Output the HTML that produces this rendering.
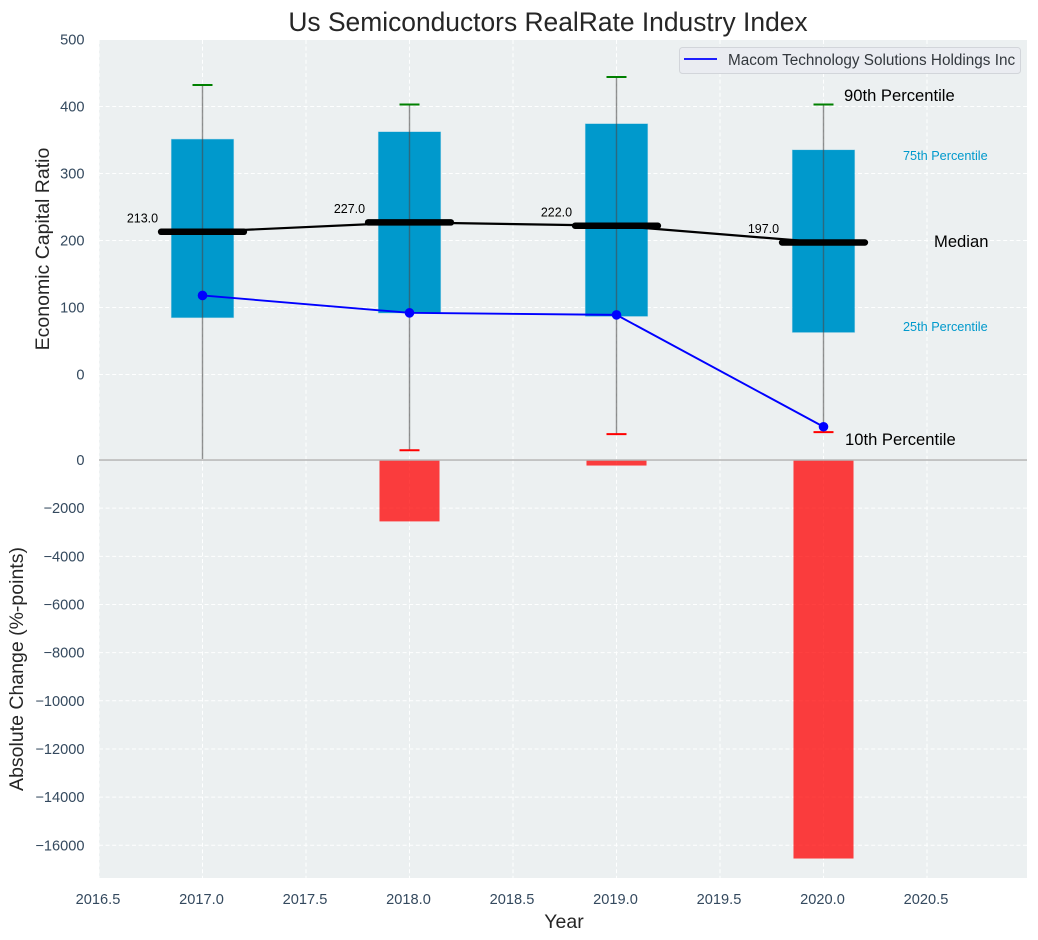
<!DOCTYPE html>
<html lang="en">
<head>
<meta charset="utf-8">
<title>Us Semiconductors RealRate Industry Index</title>
<style>
html,body{margin:0;padding:0;background:#fff;}
svg{display:block;font-family:"Liberation Sans",Arial,sans-serif;}
</style>
</head>
<body>
<svg id="chart" xmlns="http://www.w3.org/2000/svg" width="1038" height="940" viewBox="0 0 1038 940">
<defs>
<clipPath id="top-clip"><rect x="99" y="40" width="928" height="419"/></clipPath>
<clipPath id="bottom-clip"><rect x="99" y="460" width="928" height="418"/></clipPath>
</defs>
<g id="root"></g>
</svg>
<script>
const years = [2017, 2018, 2019, 2020];
const p90 = [432, 403, 444, 403];
const p75 = [351, 362, 374, 335];
const medians = [213, 227, 222, 197];
const p25 = [85, 92, 87, 63];
const p10 = [-135, -113, -89, -86];
const companyValues = [118, 92, 89, -78];
const absoluteChange = [0, -2550, -230, -16550];
const medianLabels = ['213.0', '227.0', '222.0', '197.0'];
const xTicks = [2016.5, 2017, 2017.5, 2018, 2018.5, 2019, 2019.5, 2020, 2020.5];
const xTickLabels = ['2016.5', '2017.0', '2017.5', '2018.0', '2018.5', '2019.0', '2019.5', '2020.0', '2020.5'];
const topTicks = [500, 400, 300, 200, 100, 0];
const bottomTicks = [0, -2000, -4000, -6000, -8000, -10000, -12000, -14000, -16000];

const NS = 'http://www.w3.org/2000/svg';
const root = document.getElementById('root');
const INK = '#34495e';

function X(v) { return 202.5 + (v - 2017) * 207; }
function Y(v) { return 374.5 - v * 0.67; }
function B(v) { return 460 - v * 0.02408; }

function add(tag, attrs, name, parent) {
  const el = document.createElementNS(NS, tag);
  for (const k in attrs) el.setAttribute(k, attrs[k]);
  
  
  (parent || root).appendChild(el);
  return el;
}
function txt(s, x, y, size, fill, anchor, name, extra) {
  const el = add('text', Object.assign({x: x, y: y, 'font-size': size, fill: fill, 'text-anchor': anchor || 'start'}, extra || {}), name);
  el.textContent = s;
  return el;
}
function minus(v) { return String(v).replace('-', '\u2212'); }

/* panels */
add('rect', {x: 99, y: 40, width: 928, height: 419, fill: '#ecf0f1'}, 'top-panel-background');
add('rect', {x: 99, y: 460, width: 928, height: 418, fill: '#ecf0f1'}, 'bottom-panel-background');

/* grid */
const dash = {stroke: '#ffffff', 'stroke-width': 1, 'stroke-dasharray': '4 2.6', fill: 'none', opacity: 0.95};
xTicks.forEach(function (t) {
  add('line', Object.assign({x1: X(t), x2: X(t), y1: 40, y2: 459}, dash), 'top-vertical-gridline');
  add('line', Object.assign({x1: X(t), x2: X(t), y1: 460, y2: 878}, dash), 'bottom-vertical-gridline');
});
topTicks.forEach(function (t) {
  add('line', Object.assign({x1: 99, x2: 1027, y1: Y(t), y2: Y(t)}, dash), 'top-horizontal-gridline');
});
bottomTicks.forEach(function (t) {
  if (t === 0) return;
  add('line', Object.assign({x1: 99, x2: 1027, y1: B(t), y2: B(t)}, dash), 'bottom-horizontal-gridline');
});

/* top panel marks */
const topG = add('g', {'clip-path': 'url(#top-clip)'}, 'top-panel-marks');
const boxW = 0.3;
const capHalf = 0.0483;
years.forEach(function (yr, i) {
  add('rect', {x: X(yr - boxW / 2), y: Y(p75[i]), width: boxW * 207, height: Y(p25[i]) - Y(p75[i]),
    fill: '#0099cc', stroke: '#0099cc', 'stroke-opacity': 0.3, 'stroke-width': 1}, 'iqr-bar-' + yr, topG);
});
years.forEach(function (yr, i) {
  add('line', {x1: X(yr), x2: X(yr), y1: Y(p90[i]), y2: Y(p10[i]), stroke: '#4a4a4a', 'stroke-opacity': 0.6, 'stroke-width': 1.4}, 'whisker-' + yr, topG);
  add('line', {x1: X(yr - capHalf), x2: X(yr + capHalf), y1: Y(p90[i]), y2: Y(p90[i]), stroke: '#008000', 'stroke-width': 2}, 'p90-cap-' + yr, topG);
  add('line', {x1: X(yr - capHalf), x2: X(yr + capHalf), y1: Y(p10[i]), y2: Y(p10[i]), stroke: '#ff0000', 'stroke-width': 2}, 'p10-cap-' + yr, topG);
});
add('polyline', {points: years.map(function (yr, i) { return X(yr) + ',' + Y(medians[i]); }).join(' '),
  fill: 'none', stroke: '#000000', 'stroke-width': 2.2}, 'median-line', topG);
years.forEach(function (yr, i) {
  add('line', {x1: X(yr - 0.2), x2: X(yr + 0.2), y1: Y(medians[i]), y2: Y(medians[i]),
    stroke: '#000000', 'stroke-width': 6.5, 'stroke-linecap': 'round'}, 'median-bar-' + yr, topG);
});
add('polyline', {points: years.map(function (yr, i) { return X(yr) + ',' + Y(companyValues[i]); }).join(' '),
  fill: 'none', stroke: '#0000ff', 'stroke-width': 1.9}, 'company-line', topG);
years.forEach(function (yr, i) {
  add('circle', {cx: X(yr), cy: Y(companyValues[i]), r: 4.8, fill: '#0000ff'}, 'company-point-' + yr, topG);
});

/* bottom panel marks */
const botG = add('g', {'clip-path': 'url(#bottom-clip)'}, 'bottom-panel-marks');
years.forEach(function (yr, i) {
  if (absoluteChange[i] === 0) return;
  add('rect', {x: X(yr - 0.145), y: B(0), width: 0.29 * 207, height: B(absoluteChange[i]) - B(0),
    fill: '#ff0000', 'fill-opacity': 0.75}, 'change-bar-' + yr, botG);
});
add('line', {x1: 99, x2: 1027, y1: 460, y2: 460, stroke: '#b4b4b4', 'stroke-width': 1.4}, 'zero-line');

/* median value labels */
years.forEach(function (yr, i) {
  txt(medianLabels[i], X(yr - 0.29), Y(medians[i]) - 9.5, 12.5, '#000000', 'middle', 'median-label-' + yr);
});

/* percentile annotations */
txt('90th Percentile', 844, 101, 16.6, '#000000', 'start', 'p90-annotation');
txt('75th Percentile', 903, 160, 12.7, '#0099cc', 'start', 'p75-annotation');
txt('Median', 934, 247, 16.6, '#000000', 'start', 'median-annotation');
txt('25th Percentile', 903, 331, 12.7, '#0099cc', 'start', 'p25-annotation');
txt('10th Percentile', 845, 445, 16.6, '#000000', 'start', '10th-percentile-annotation');

/* tick labels */
topTicks.forEach(function (t) {
  txt(minus(t), 84.5, Y(t) + 5, 14.6, INK, 'end', 'top-y-tick-label');
});
bottomTicks.forEach(function (t) {
  txt(minus(t), 84.5, B(t) + 5, 14.6, INK, 'end', 'bottom-y-tick-label');
});
xTicks.forEach(function (t, i) {
  txt(xTickLabels[i], X(t) - 1, 904, 14.6, INK, 'middle', 'x-tick-label');
});

/* axis titles and chart title */
txt('Us Semiconductors RealRate Industry Index', 548, 31, 26.4, '#262626', 'middle', 'chart-title');
txt('Year', 564, 928, 19.5, '#262626', 'middle', 'x-axis-title');
txt('Economic Capital Ratio', 0, 0, 19.5, '#262626', 'middle', 'top-y-axis-title', {transform: 'translate(49,249) rotate(-90)'});
txt('Absolute Change (%-points)', 0, 0, 19.5, '#262626', 'middle', 'bottom-y-axis-title', {transform: 'translate(23,669) rotate(-90)'});

/* legend */
add('rect', {x: 679.5, y: 47.5, width: 341, height: 26, rx: 3, fill: '#eaecf1', stroke: '#d2d5da', 'stroke-width': 1}, 'legend-box');
add('line', {x1: 684, x2: 717, y1: 59, y2: 59, stroke: '#0000ff', 'stroke-width': 1.8}, 'legend-line');
txt('Macom Technology Solutions Holdings Inc', 728, 65, 15.3, '#33383d', 'start', 'legend-label');
</script>
</body>
</html>
